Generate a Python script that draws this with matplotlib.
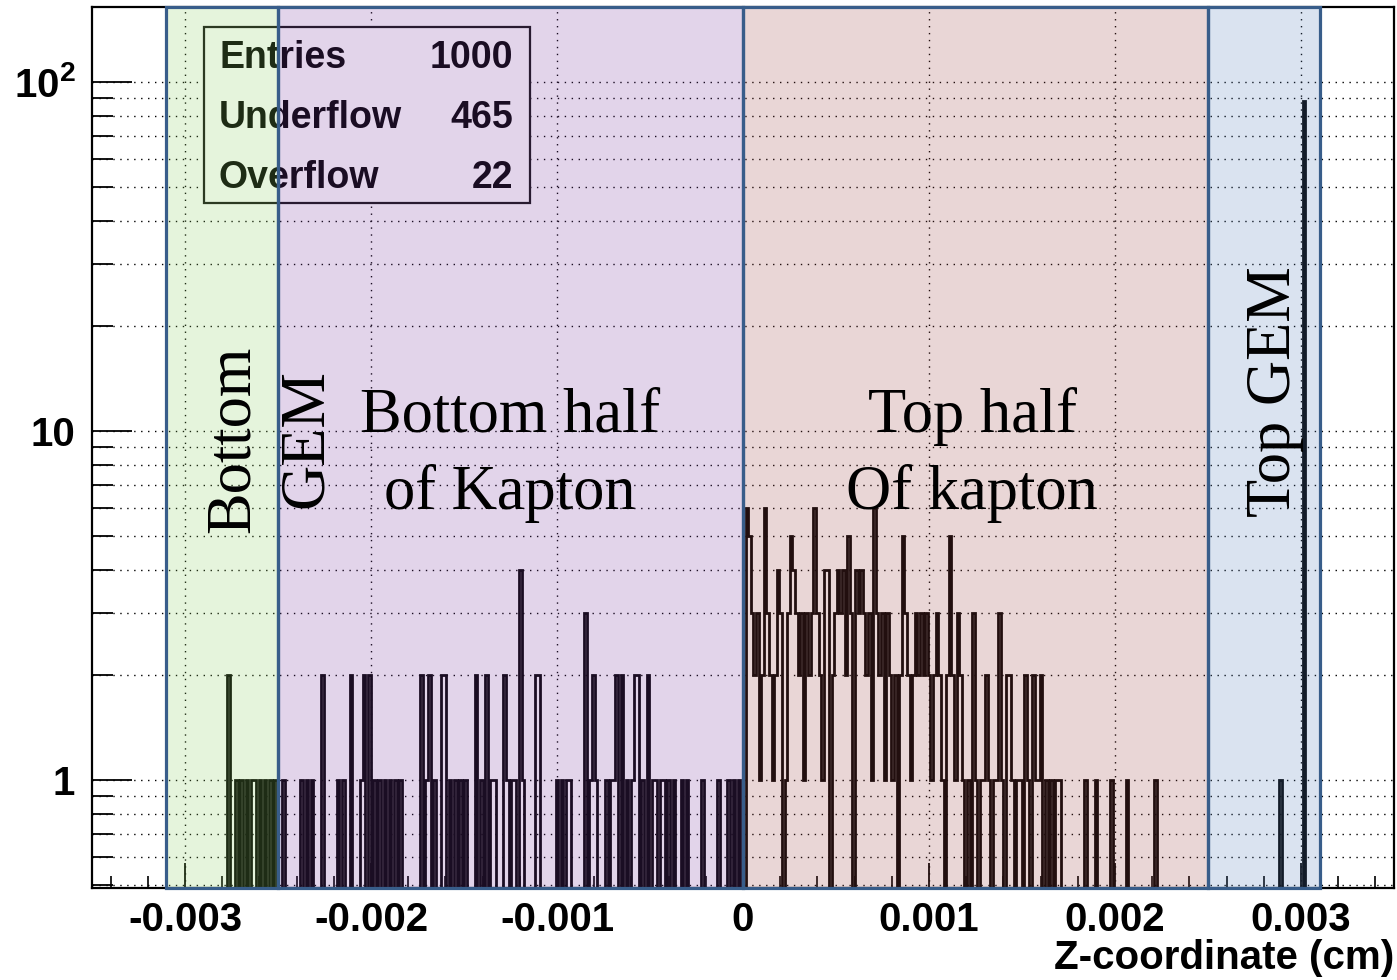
import numpy as np
import matplotlib
matplotlib.use('Agg')
import matplotlib.pyplot as plt
import matplotlib.transforms as mtransforms
from matplotlib.patches import Rectangle
from matplotlib.ticker import FixedLocator, MultipleLocator, NullFormatter, FixedFormatter

plt.rcParams['font.family'] = ['Liberation Sans', 'DejaVu Sans']
plt.rcParams['mathtext.fontset'] = 'custom'
plt.rcParams['mathtext.bf'] = 'Liberation Sans:bold'
plt.rcParams['mathtext.rm'] = 'Liberation Sans:bold'

# histogram definition (ROOT TH1, 500 bins)
N_BINS = 500
Z_MIN, Z_MAX = -0.0035, 0.0035

# non-empty bins: bin index -> content
bottom_gem_bins = [52, 55, 57, 59, 61, 62, 64, 66, 68, 70]
bottom_gem_counts = [2, 1, 1, 1, 1, 1, 1, 1, 1, 1]

bottom_kapton_bins = [73, 80, 82, 84, 88, 94, 96, 99, 103, 104, 106, 108, 110, 112, 114,
                      116, 118, 126, 128, 129, 131, 134, 135, 137, 139, 141, 143, 147, 149,
                      151, 153, 154, 158, 159, 161, 162, 164, 165, 170, 171, 178, 180, 182,
                      183, 189, 191, 192, 193, 197, 199, 200, 201, 203, 205, 207, 208, 209,
                      211, 213, 215, 216, 218, 219, 221, 223, 226, 228, 234, 240, 244, 246, 248]
bottom_kapton_counts = [1, 1, 1, 1, 2, 1, 1, 2, 1, 2, 2, 1, 1, 1, 1,
                        1, 1, 2, 1, 2, 1, 2, 2, 1, 1, 1, 1, 2, 1,
                        2, 1, 1, 2, 1, 1, 1, 4, 1, 2, 2, 1, 1, 1,
                        1, 3, 1, 2, 1, 1, 1, 1, 2, 2, 1, 1, 2, 2,
                        1, 2, 1, 1, 1, 1, 1, 1, 1, 1, 1, 1, 1, 1, 1]

top_kapton_bins = list(range(251, 372)) + [381, 385, 391, 397, 408]
top_kapton_counts = [6, 5, 3, 2, 3, 1, 2, 6, 3, 2,
                     1, 2, 4, 3, 0, 1, 3, 5, 4, 3,
                     2, 3, 1, 3, 2, 3, 6, 3, 2, 1,
                     4, 4, 0, 2, 3, 4, 3, 4, 2, 5,
                     3, 0, 4, 3, 4, 3, 2, 3, 1, 6,
                     3, 2, 3, 1, 3, 2, 1, 2, 0, 2,
                     5, 3, 2, 1, 2, 3, 2, 3, 2, 3,
                     2, 1, 2, 3, 2, 1, 0, 2, 5, 2,
                     1, 3, 2, 1, 0, 1, 0, 3, 1, 0,
                     1, 1, 2, 1, 0, 1, 1, 3, 1, 0,
                     2, 2, 1, 0, 1, 1, 0, 2, 1, 0,
                     2, 1, 1, 2, 0, 1, 0, 1, 0, 1, 1,
                     1, 1, 1, 1, 1]

top_gem_bins = [456, 465]
top_gem_counts = [1, 88]

# shaded detector regions (drawn on top, like the slide overlay)
region_edges = [-0.0031, -0.0025, 0.0, 0.0025, 0.0031]
region_colors = ['#8DCD60', '#7B3CA0', '#9B4545', '#5780BB']

stat_names = ['Entries', 'Underflow', 'Overflow']
stat_values = ['1000', '465', '22']

x_ticks = [-0.003, -0.002, -0.001, 0, 0.001, 0.002, 0.003]
x_tick_labels = ['-0.003', '-0.002', '-0.001', '0', '0.001', '0.002', '0.003']
y_ticks = [1, 10, 100]
y_tick_labels = ['1', '10', r'$\mathbf{10^{2}}$']

W, H = 1397, 980


def fx(px):
    return px / W


def fy(py):
    return 1 - py / H


counts = np.zeros(N_BINS)
for bins, vals in [(bottom_gem_bins, bottom_gem_counts),
                   (bottom_kapton_bins, bottom_kapton_counts),
                   (top_kapton_bins, top_kapton_counts),
                   (top_gem_bins, top_gem_counts)]:
    counts[np.array(bins)] = vals
edges = np.linspace(Z_MIN, Z_MAX, N_BINS + 1)
ymin, ymax = 0.49, 164
draw_vals = np.where(counts > 0, counts, 1e-3)  # empty bins drop to the frame bottom

fig = plt.figure(figsize=(W / 100, H / 100), dpi=100)
ax = fig.add_axes([fx(92), fy(888), fx(1394) - fx(92), fy(7) - fy(888)])
ax.set_xlim(Z_MIN, Z_MAX)
ax.set_yscale('log')
ax.set_ylim(ymin, ymax)

ax.stairs(draw_vals, edges, color='black', lw=2.0, zorder=3)

# ticks in ROOT style
ax.xaxis.set_major_locator(FixedLocator(x_ticks))
ax.xaxis.set_major_formatter(FixedFormatter(x_tick_labels))
ax.xaxis.set_minor_locator(MultipleLocator(0.0002))
ax.yaxis.set_major_locator(FixedLocator(y_ticks))
ax.yaxis.set_major_formatter(FixedFormatter(y_tick_labels))
minor_y = [m * 10.0 ** e for e in (-1, 0, 1) for m in range(2, 10)]
ax.yaxis.set_minor_locator(FixedLocator(minor_y))
ax.yaxis.set_minor_formatter(NullFormatter())
ax.tick_params(axis='x', which='major', direction='in', length=18, width=1.3,
               labelsize=29, pad=9, top=False)
ax.tick_params(axis='x', which='minor', direction='in', length=9, width=1.2, top=False)
ax.tick_params(axis='y', which='major', direction='in', length=29, width=1.3,
               labelsize=29, pad=12, right=False)
ax.tick_params(axis='y', which='minor', direction='in', length=15, width=1.3, right=False)
for lab in ax.get_xticklabels() + ax.get_yticklabels():
    lab.set_fontweight('bold')

grid_style = dict(color='black', lw=1.0, linestyle=(0, (1, 4)))
ax.grid(True, axis='x', which='major', **grid_style)
ax.grid(True, axis='y', which='both', **grid_style)
ax.set_axisbelow(True)
for sp in ax.spines.values():
    sp.set_linewidth(1.6)

ax.text(1.0, -0.08, 'Z-coordinate (cm)', transform=ax.transAxes, ha='right', va='center',
        fontsize=29, fontweight='bold')

# stats box
ax.add_patch(Rectangle((fx(204), fy(203)), fx(530) - fx(204), fy(27) - fy(203),
                       transform=fig.transFigure, facecolor='white', edgecolor='#111111',
                       lw=1.6, zorder=5, clip_on=False))
for i, (name, val) in enumerate(zip(stat_names, stat_values)):
    yy = fy(58 + i * 60)
    ax.text(fx(219), yy, name, transform=fig.transFigure, ha='left', va='center',
            fontsize=27, fontweight='bold', zorder=6)
    ax.text(fx(513), yy, val, transform=fig.transFigure, ha='right', va='center',
            fontsize=27, fontweight='bold', zorder=6)

# translucent region overlays with outline
blend = mtransforms.blended_transform_factory(ax.transData, ax.transAxes)
for x0, x1, c in zip(region_edges[:-1], region_edges[1:], region_colors):
    ax.add_patch(Rectangle((x0, 0), x1 - x0, 1, transform=blend, facecolor=c, alpha=0.22,
                           edgecolor='none', zorder=10, clip_on=False))
    ax.add_patch(Rectangle((x0, 0), x1 - x0, 1, transform=blend, facecolor='none',
                           edgecolor='#385D8A', lw=2.3, zorder=11, clip_on=False))

serif = ['Liberation Serif', 'DejaVu Serif']
ax.text(fx(270), fy(439), 'Bottom\nGEM', transform=fig.transFigure, rotation=90,
        ha='center', va='center', fontsize=45, family=serif, linespacing=1.35, zorder=12)
ax.text(fx(510), fy(455), 'Bottom half\nof Kapton', transform=fig.transFigure,
        ha='center', va='center', fontsize=45, family=serif, linespacing=1.4, zorder=12)
ax.text(fx(972), fy(455), 'Top half\nOf kapton', transform=fig.transFigure,
        ha='center', va='center', fontsize=45, family=serif, linespacing=1.4, zorder=12)
ax.text(fx(1275), fy(392), 'Top GEM', transform=fig.transFigure, rotation=90,
        ha='center', va='center', fontsize=45, family=serif, zorder=12)

fig.savefig('out.png', dpi=100)
